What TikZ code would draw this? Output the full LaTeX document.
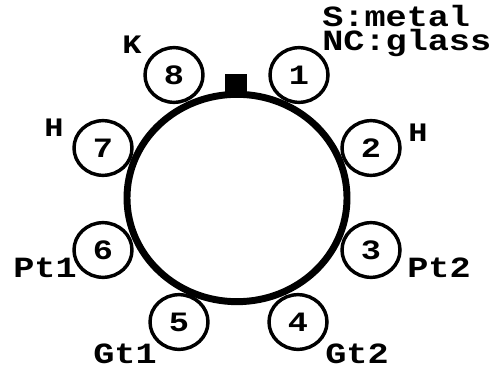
\documentclass[tikz,border=0pt]{standalone}
\usepackage{fontspec}
\setmainfont{Liberation Mono}[BoldFont={Liberation Mono Bold},FakeStretch=1.2]
\usetikzlibrary{shapes.geometric}
\tikzset{
  x=0.75pt,y=-0.75pt,
  ring/.style={ellipse,draw,line width=5.2pt,minimum width=165pt,minimum height=155.5pt,inner sep=0pt},
  pin/.style={ellipse,draw,line width=2.6pt,fill=white,minimum width=43.5pt,minimum height=41pt,inner sep=0pt,font=\bfseries\fontsize{21}{21}\selectfont},
  lab/.style={inner sep=0pt,font=\bfseries\fontsize{22}{22}\selectfont},
  smalllab/.style={inner sep=0pt,font=\bfseries\fontsize{20}{20}\selectfont},
  keyb/.style={fill=black,minimum width=16.5pt,minimum height=18pt,inner sep=0pt}
}
\begin{document}
\begin{tikzpicture}
\useasboundingbox (0,0) rectangle (491,370);
\node[pin] (p1) at (299,75) {1};
\node[pin] (p2) at (371,148) {2};
\node[pin] (p3) at (371,250) {3};
\node[pin] (p4) at (298,322) {4};
\node[pin] (p5) at (179,322) {5};
\node[pin] (p6) at (103,250) {6};
\node[pin] (p7) at (103,148) {7};
\node[pin] (p8) at (174,75) {8};
\node[keyb] (key) at (236,86) {};
\node[ring] (r) at (237,198) {};
\node[smalllab] (k) at (132,45) {K};
\node[smalllab] (h1) at (54,128) {H};
\node[smalllab] (h2) at (418,133) {H};
\node[lab] (pt1) at (45,268) {Pt1};
\node[lab] (pt2) at (439,268) {Pt2};
\node[lab] (gt1) at (125,354) {Gt1};
\node[lab] (gt2) at (357,354) {Gt2};
\node[lab,anchor=west] (s) at (322,16) {S:metal};
\node[lab,anchor=west] (nc) at (322,43) {NC:glass};
\end{tikzpicture}
\end{document}
